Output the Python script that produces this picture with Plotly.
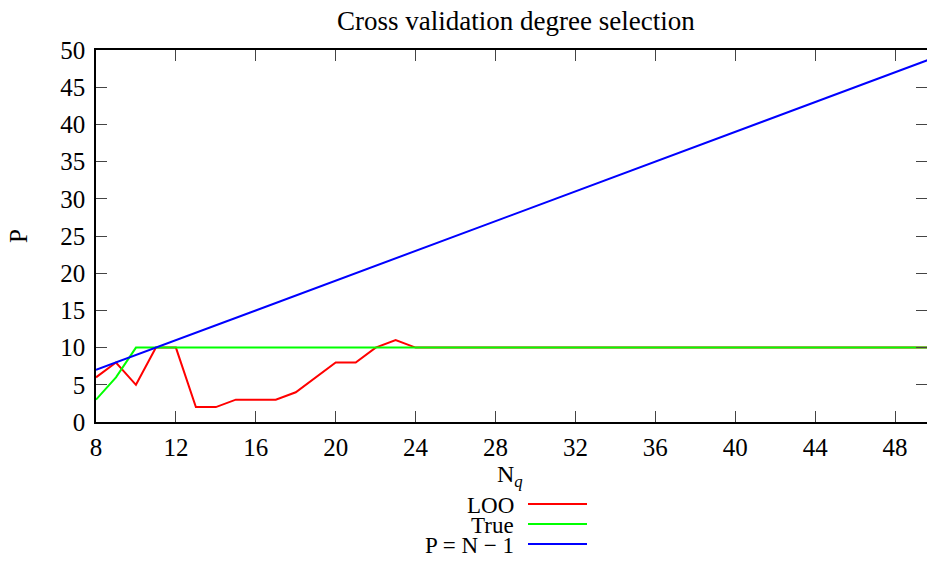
import plotly.graph_objects as go

# ---- data ----
n_values = list(range(8, 51))
loo = [6, 8, 5, 10, 10, 2, 2, 3, 3, 3, 4, 6, 8, 8, 10, 11] + [10] * (len(n_values) - 16)
true_p = [3, 6] + [10] * (len(n_values) - 2)
p_max = [n - 1 for n in n_values]

series_names = ["LOO", "True", "P = N − 1"]
series_colors = ["#ff0000", "#00ff00", "#0000ff"]
x_ticks = list(range(8, 49, 4))
y_ticks = list(range(0, 51, 5))

W, H = 927, 561
L, R, T, B = 96, 0, 50, 139
PW, PH = W - L - R, H - T - B

def px(x, y):
    return (x - L) / PW, (H - B - y) / PH

FONT = "Liberation Serif"
FS = 25

fig = go.Figure()
for name, ys, col in zip(series_names, [loo, true_p, p_max], series_colors):
    fig.add_trace(go.Scatter(x=n_values, y=ys, mode="lines", name=name,
                             line=dict(color=col, width=2), showlegend=False))

axis_common = dict(showgrid=False, zeroline=False, showline=True, linecolor="black",
                   linewidth=1.5, mirror="allticks", ticks="inside", ticklen=11,
                   tickwidth=1, tickcolor="#444", tickfont=dict(family=FONT, size=FS, color="black"))
fig.update_xaxes(range=[8, 49.6], tickvals=x_ticks, ticklabelstandoff=2, **axis_common)
fig.update_yaxes(range=[0, 50], tickvals=y_ticks, ticklabelstandoff=4, **axis_common)

ann = []
ann.append(dict(text="Cross validation degree selection", xref="paper", yref="paper",
                x=px(516, 0)[0], y=px(0, 21)[1], showarrow=False,
                font=dict(family=FONT, size=27, color="black"), xanchor="center", yanchor="middle"))
ann.append(dict(text="P", xref="paper", yref="paper", x=px(18, 0)[0], y=px(0, 236)[1],
                showarrow=False, textangle=-90, font=dict(family=FONT, size=FS, color="black"),
                xanchor="center", yanchor="middle"))
ann.append(dict(text="N<sub><i>q</i></sub>", xref="paper", yref="paper", x=px(510, 0)[0], y=px(0, 476)[1],
                showarrow=False, font=dict(family=FONT, size=24, color="black"),
                xanchor="center", yanchor="middle"))
shapes = []
for i, (name, col) in enumerate(zip(series_names, series_colors)):
    yy = 505 + 20 * i
    ann.append(dict(text=name, xref="paper", yref="paper", x=px(516, 0)[0], y=px(0, yy)[1],
                    showarrow=False, font=dict(family=FONT, size=23, color="black"),
                    xanchor="right", yanchor="middle"))
    x0, y0 = px(528, yy - 1)
    x1, _ = px(587, yy - 1)
    shapes.append(dict(type="line", xref="paper", yref="paper", x0=x0, x1=x1, y0=y0, y1=y0,
                       line=dict(color=col, width=2)))

fig.update_layout(width=W, height=H, margin=dict(l=L, r=R, t=T, b=B, autoexpand=False),
                  plot_bgcolor="white", paper_bgcolor="white",
                  annotations=ann, shapes=shapes)
fig.write_html("out.html", config={"displayModeBar": False},
               post_script="document.body.style.margin='0';document.body.style.overflow='hidden';")
